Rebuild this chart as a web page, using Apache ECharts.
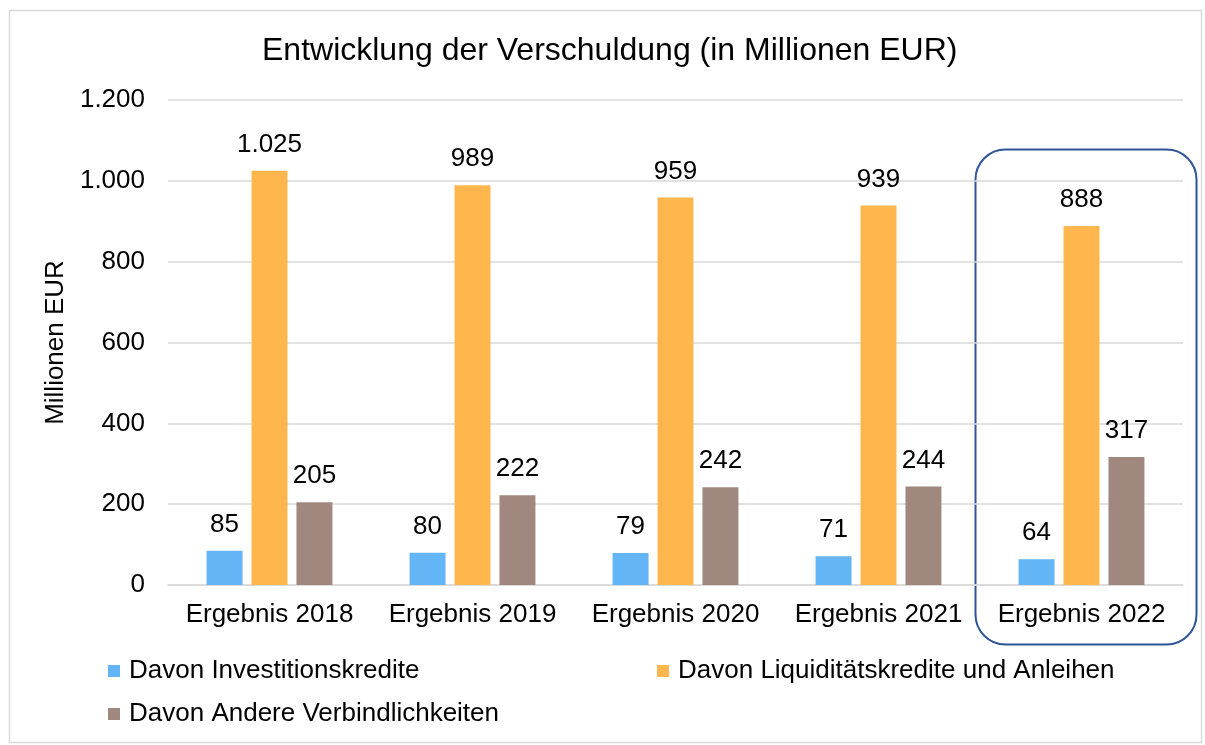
<!DOCTYPE html>
<html>
<head>
<meta charset="utf-8">
<script src="https://cdn.jsdelivr.net/npm/echarts@6/dist/echarts.min.js"></script>
<style>
  html, body { margin: 0; padding: 0; background: #fff; }
  #chart { width: 1205px; height: 745px; }
</style>
</head>
<body>
<div id="chart"></div>
<script>
// Werte
const categories = ['Ergebnis 2018', 'Ergebnis 2019', 'Ergebnis 2020', 'Ergebnis 2021', 'Ergebnis 2022']
const investitionskredite = [85, 80, 79, 71, 64]
const liquiditaetskredite = [1025, 989, 959, 939, 888]
const andereVerbindlichkeiten = [205, 222, 242, 244, 317]
const seriesNames = ['Davon Investitionskredite', 'Davon Liquiditätskredite und Anleihen', 'Davon Andere Verbindlichkeiten']
const colors = ['#63B5F6', '#FFB74D', '#A1887F']

const fmt = v => v.toLocaleString('de-DE')
const font = 'Liberation Sans, Arial, sans-serif'

const chart = echarts.init(document.getElementById('chart'))

const barSeries = (name, data, color) => ({
  name: name,
  type: 'bar',
  data: data,
  barGap: '25%',
  barCategoryGap: '38%',
  itemStyle: { color: color },
  label: {
    show: true,
    position: 'top',
    distance: 13,
    fontSize: 26,
    fontFamily: font,
    color: '#000',
    formatter: p => fmt(p.value)
  }
})

const legendBase = {
  orient: 'horizontal',
  icon: 'rect',
  itemWidth: 12,
  itemHeight: 12,
  itemGap: 6,
  textStyle: { fontSize: 26, fontFamily: font, color: '#000', padding: [0, 0, 0, 4] }
}

chart.setOption({
  animation: false,
  title: {
    text: 'Entwicklung der Verschuldung (in Millionen EUR)',
    left: 257,
    top: 30,
    textStyle: { fontSize: 32, fontWeight: 'normal', fontFamily: font, color: '#000' }
  },
  grid: { left: 168, right: 22, top: 100, bottom: 160 },
  legend: [
    Object.assign({}, legendBase, { data: [seriesNames[0]], left: 103, top: 653 }),
    Object.assign({}, legendBase, { data: [seriesNames[1]], left: 652, top: 653 }),
    Object.assign({}, legendBase, { data: [seriesNames[2]], left: 103, top: 696 })
  ],
  xAxis: {
    type: 'category',
    data: categories,
    axisLine: { lineStyle: { color: '#D9D9D9', width: 1.5 } },
    axisTick: { show: false },
    axisLabel: { fontSize: 26, fontFamily: font, color: '#000', margin: 17, interval: 0 }
  },
  yAxis: {
    type: 'value',
    min: 0,
    max: 1200,
    interval: 200,
    name: 'Millionen EUR',
    nameLocation: 'middle',
    nameGap: 98,
    nameTextStyle: { fontSize: 26, fontFamily: font, color: '#000' },
    axisLine: { show: false },
    axisTick: { show: false },
    splitLine: { lineStyle: { color: '#D9D9D9', width: 1.5 } },
    axisLabel: { fontSize: 26, fontFamily: font, color: '#000', margin: 23, formatter: v => fmt(v) }
  },
  series: [
    barSeries(seriesNames[0], investitionskredite, colors[0]),
    barSeries(seriesNames[1], liquiditaetskredite, colors[1]),
    barSeries(seriesNames[2], andereVerbindlichkeiten, colors[2])
  ],
  graphic: [
    {
      type: 'rect',
      left: 7, top: 8,
      shape: { width: 1192, height: 732 },
      style: { fill: 'none', stroke: '#D9D9D9', lineWidth: 1.5 },
      silent: true
    },
    {
      type: 'rect',
      left: 973, top: 147,
      shape: { width: 221, height: 495, r: 30 },
      style: { fill: 'none', stroke: '#2F5597', lineWidth: 2 },
      silent: true
    }
  ]
})
</script>
</body>
</html>
